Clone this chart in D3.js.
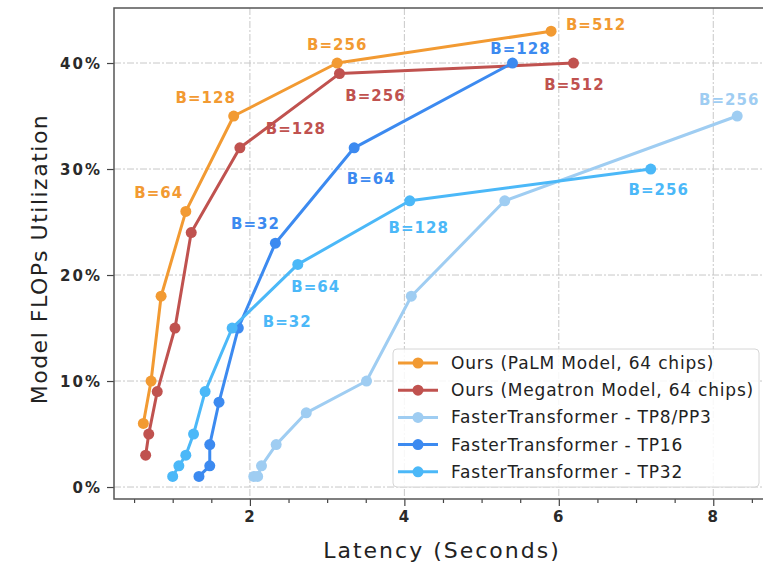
<!DOCTYPE html>
<html>
<head>
<meta charset="utf-8">
<script src="https://cdn.jsdelivr.net/npm/d3@7"></script>
<style>
  html, body { margin: 0; padding: 0; background: #fff; }
  svg { display: block; font-family: "DejaVu Sans", sans-serif; }
</style>
</head>
<body>
<svg id="chart" width="763" height="564"></svg>
<script>
// ---------- data ----------
const seriesNames = [
  "Ours (PaLM Model, 64 chips)",
  "Ours (Megatron Model, 64 chips)",
  "FasterTransformer - TP8/PP3",
  "FasterTransformer - TP16",
  "FasterTransformer - TP32"
];
const palmLatency = [0.62, 0.72, 0.85, 1.17, 1.79, 3.13, 5.90];
const palmMFU     = [6, 10, 18, 26, 35, 40, 43];
const megaLatency = [0.65, 0.69, 0.80, 1.03, 1.24, 1.87, 3.16, 6.19];
const megaMFU     = [3, 5, 9, 15, 24, 32, 39, 40];
const tp8Latency  = [2.05, 2.10, 2.15, 2.34, 2.73, 3.51, 4.09, 5.30, 8.31];
const tp8MFU      = [1, 1, 2, 4, 7, 10, 18, 27, 35];
const tp16Latency = [1.34, 1.48, 1.48, 1.60, 1.85, 2.33, 3.35, 5.40];
const tp16MFU     = [1, 2, 4, 8, 15, 23, 32, 40];
const tp32Latency = [1.00, 1.08, 1.17, 1.27, 1.42, 1.77, 2.62, 4.07, 7.19];
const tp32MFU     = [1, 2, 3, 5, 9, 15, 21, 27, 30];

// batch-size annotations: [series index, point index, text]
const batchLabels = [
  [0, 3, "B=64"], [0, 4, "B=128"], [0, 5, "B=256"], [0, 6, "B=512"],
  [1, 5, "B=128"], [1, 6, "B=256"], [1, 7, "B=512"],
  [3, 5, "B=32"], [3, 6, "B=64"], [3, 7, "B=128"],
  [4, 5, "B=32"], [4, 6, "B=64"], [4, 7, "B=128"], [4, 8, "B=256"],
  [2, 8, "B=256"]
];
const xTicks = [2, 4, 6, 8];
const xMinorTicks = [0.5, 1, 1.5, 2.5, 3, 3.5, 4.5, 5, 5.5, 6.5, 7, 7.5, 8.5];
const yTicks = [0, 10, 20, 30, 40];
const xTitle = "Latency (Seconds)";
const yTitle = "Model FLOPs Utilization";

// ---------- layout / style ----------
const colors = ["#f29a32", "#c0524f", "#9fcdf2", "#3c8af0", "#4bb8f8"];
// label offsets (px) relative to their point, same order as batchLabels
const labelOffsets = [
  [-27, -18], [-28, -18], [0, -18], [45, -6],
  [56, -19], [36, 22], [1, 22],
  [-20, -19], [17, 31], [8, -14],
  [55, -6], [18, 23], [9, 27], [8, 21],
  [-8, -16]
];

const series = [
  palmLatency.map((x, i) => ({x, y: palmMFU[i]})),
  megaLatency.map((x, i) => ({x, y: megaMFU[i]})),
  tp8Latency.map((x, i) => ({x, y: tp8MFU[i]})),
  tp16Latency.map((x, i) => ({x, y: tp16MFU[i]})),
  tp32Latency.map((x, i) => ({x, y: tp32MFU[i]}))
];

const svg = d3.select("#chart");
const L = 114, R = 765, T = 8, B = 499;
const x = d3.scaleLinear().domain([0.24, 8.67]).range([L, R]);
const y = d3.scaleLinear().domain([-1.13, 45.19]).range([B, T]);

svg.append("defs").append("clipPath").attr("id", "clip")
  .append("rect").attr("x", L).attr("y", T).attr("width", R - L).attr("height", B - T);

// grid
const grid = svg.append("g").attr("stroke", "#c8c8c8").attr("stroke-width", 1)
  .attr("stroke-dasharray", "7,2,2,2");
grid.selectAll(".gy").data(yTicks).join("line")
  .attr("x1", L).attr("x2", R).attr("y1", d => y(d)).attr("y2", d => y(d));
grid.selectAll(".gx").data(xTicks).join("line")
  .attr("y1", T).attr("y2", B).attr("x1", d => x(d)).attr("x2", d => x(d));

// axes
const xAxis = svg.append("g").attr("transform", `translate(0,${B})`)
  .call(d3.axisBottom(x).tickValues(xTicks).tickSize(7).tickPadding(5).tickFormat(d3.format("d")));
const xMinor = svg.append("g").attr("transform", `translate(0,${B})`)
  .call(d3.axisBottom(x).tickValues(xMinorTicks).tickSize(4).tickFormat(""));
const yAxis = svg.append("g").attr("transform", `translate(${L},0)`)
  .call(d3.axisLeft(y).tickValues(yTicks).tickSize(7).tickPadding(5).tickFormat(d => d + "%"));
[xAxis, xMinor, yAxis].forEach(g => {
  g.select(".domain").remove();
  g.selectAll(".tick line").attr("stroke", "#444").attr("stroke-width", 1.2);
  g.selectAll(".tick text").attr("fill", "#2a2a2a").attr("font-size", 15)
    .attr("font-family", "DejaVu Sans").attr("letter-spacing", "2px").attr("font-weight", "bold");
});
yAxis.selectAll(".tick text").attr("dy", "0.35em");

// spines
svg.append("path").attr("fill", "none").attr("stroke", "#555").attr("stroke-width", 1.5)
  .attr("d", `M${R},${T}H${L}V${B}H${R}`);

// series
const plot = svg.append("g").attr("clip-path", "url(#clip)");
const line = d3.line().x(d => x(d.x)).y(d => y(d.y));
series.forEach((s, i) => {
  const g = plot.append("g");
  g.append("path").datum(s).attr("d", line).attr("fill", "none")
    .attr("stroke", colors[i]).attr("stroke-width", 3).attr("stroke-linejoin", "round");
  g.selectAll("circle").data(s).join("circle")
    .attr("cx", d => x(d.x)).attr("cy", d => y(d.y)).attr("r", 5.5).attr("fill", colors[i]);
});

// batch labels
svg.append("g").selectAll("text").data(batchLabels).join("text")
  .attr("x", (d, k) => x(series[d[0]][d[1]].x) + labelOffsets[k][0])
  .attr("y", (d, k) => y(series[d[0]][d[1]].y) + labelOffsets[k][1])
  .attr("text-anchor", "middle").attr("dominant-baseline", "central")
  .attr("font-size", 15).attr("font-weight", "bold").attr("letter-spacing", "1px")
  .attr("fill", d => colors[d[0]])
  .text(d => d[2]);

// legend
const lg = svg.append("g");
lg.append("rect").attr("x", 393).attr("y", 349).attr("width", 366).attr("height", 138)
  .attr("rx", 4).attr("fill", "#fff").attr("fill-opacity", 0.85)
  .attr("stroke", "#d6d6d6").attr("stroke-width", 1);
seriesNames.forEach((name, i) => {
  const cy = 363 + i * 27.2;
  lg.append("line").attr("x1", 398).attr("x2", 438).attr("y1", cy).attr("y2", cy)
    .attr("stroke", colors[i]).attr("stroke-width", 3);
  lg.append("circle").attr("cx", 418).attr("cy", cy).attr("r", 5.5).attr("fill", colors[i]);
  lg.append("text").attr("x", 451).attr("y", cy).attr("dominant-baseline", "central")
    .attr("font-size", 17).attr("letter-spacing", "0.8px").attr("fill", "#222").text(name);
});

// axis titles
svg.append("text").attr("x", 442).attr("y", 550).attr("text-anchor", "middle")
  .attr("dominant-baseline", "central").attr("font-size", 22).attr("letter-spacing", "2px")
  .attr("fill", "#222").text(xTitle);
svg.append("text").attr("transform", "translate(39,259) rotate(-90)").attr("text-anchor", "middle")
  .attr("dominant-baseline", "central").attr("font-size", 22).attr("letter-spacing", "1.5px")
  .attr("fill", "#222").text(yTitle);
</script>
</body>
</html>
